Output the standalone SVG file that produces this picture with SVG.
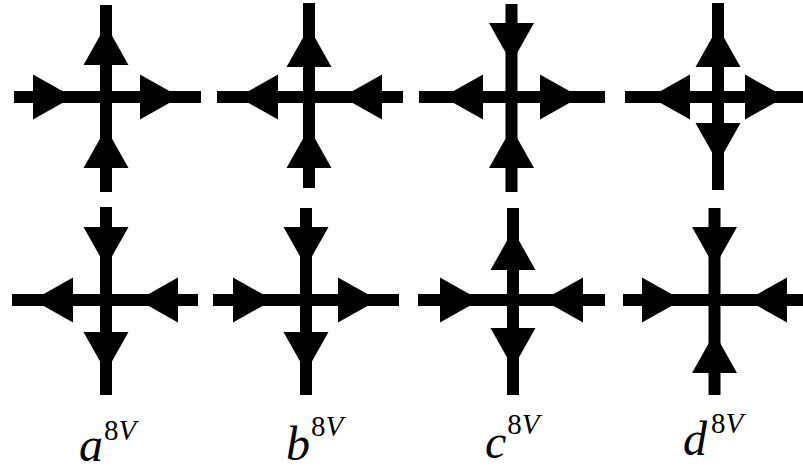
<svg xmlns="http://www.w3.org/2000/svg" xmlns:xlink="http://www.w3.org/1999/xlink" width="803" height="468" viewBox="0 0 803 468">
<style>
.lb{font-family:"Liberation Serif","Times New Roman",serif;fill:#000;font-size:48px}
.it{font-style:italic}
.sp{font-size:29px}
</style>
<defs>
<path id="ar" d="M-40,-22.5 L0,0 L-40,22.5 Z"/>
</defs>
<rect width="803" height="468" fill="#fff"/>
<g id="connectors">
<g id="a-top">
<rect x="100" y="5" width="12" height="187"/>
<rect x="14" y="91" width="187" height="12"/>
<use href="#ar" xlink:href="#ar" transform="translate(106,25) rotate(-90)"/>
<use href="#ar" xlink:href="#ar" transform="translate(73,97)"/>
<use href="#ar" xlink:href="#ar" transform="translate(180,97)"/>
<use href="#ar" xlink:href="#ar" transform="translate(106,128) rotate(-90)"/>
</g>
<g id="b-top">
<rect x="303" y="3" width="12" height="185"/>
<rect x="217" y="91" width="186" height="12"/>
<use href="#ar" xlink:href="#ar" transform="translate(309,27) rotate(-90)"/>
<use href="#ar" xlink:href="#ar" transform="translate(238,97) rotate(180)"/>
<use href="#ar" xlink:href="#ar" transform="translate(342,97) rotate(180)"/>
<use href="#ar" xlink:href="#ar" transform="translate(309,128) rotate(-90)"/>
</g>
<g id="c-top">
<rect x="505.5" y="4" width="12" height="188"/>
<rect x="419" y="91" width="186" height="12"/>
<use href="#ar" xlink:href="#ar" transform="translate(511.5,63) rotate(90)"/>
<use href="#ar" xlink:href="#ar" transform="translate(443,97) rotate(180)"/>
<use href="#ar" xlink:href="#ar" transform="translate(580,97)"/>
<use href="#ar" xlink:href="#ar" transform="translate(511.5,128) rotate(-90)"/>
</g>
<g id="d-top">
<rect x="712" y="3" width="12" height="187"/>
<rect x="625" y="91" width="178" height="12"/>
<use href="#ar" xlink:href="#ar" transform="translate(718,27) rotate(-90)"/>
<use href="#ar" xlink:href="#ar" transform="translate(650,97) rotate(180)"/>
<use href="#ar" xlink:href="#ar" transform="translate(785,97)"/>
<use href="#ar" xlink:href="#ar" transform="translate(718,163) rotate(90)"/>
</g>
<g id="a-bottom">
<rect x="100" y="207" width="12" height="188"/>
<rect x="12" y="294" width="186" height="12"/>
<use href="#ar" xlink:href="#ar" transform="translate(106,267) rotate(90)"/>
<use href="#ar" xlink:href="#ar" transform="translate(33,300) rotate(180)"/>
<use href="#ar" xlink:href="#ar" transform="translate(138,300) rotate(180)"/>
<use href="#ar" xlink:href="#ar" transform="translate(106,372) rotate(90)"/>
</g>
<g id="b-bottom">
<rect x="300" y="208" width="12" height="187"/>
<rect x="213" y="294" width="186" height="12"/>
<use href="#ar" xlink:href="#ar" transform="translate(306,267) rotate(90)"/>
<use href="#ar" xlink:href="#ar" transform="translate(273,300)"/>
<use href="#ar" xlink:href="#ar" transform="translate(378,300)"/>
<use href="#ar" xlink:href="#ar" transform="translate(306,372) rotate(90)"/>
</g>
<g id="c-bottom">
<rect x="507" y="208" width="12" height="187"/>
<rect x="418" y="294" width="187" height="12"/>
<use href="#ar" xlink:href="#ar" transform="translate(513,230) rotate(-90)"/>
<use href="#ar" xlink:href="#ar" transform="translate(480,300)"/>
<use href="#ar" xlink:href="#ar" transform="translate(543,300) rotate(180)"/>
<use href="#ar" xlink:href="#ar" transform="translate(513,368) rotate(90)"/>
</g>
<g id="d-bottom">
<rect x="708.5" y="208" width="12" height="187"/>
<rect x="623" y="294" width="180" height="12"/>
<use href="#ar" xlink:href="#ar" transform="translate(714.5,267) rotate(90)"/>
<use href="#ar" xlink:href="#ar" transform="translate(682,300)"/>
<use href="#ar" xlink:href="#ar" transform="translate(747,300) rotate(180)"/>
<use href="#ar" xlink:href="#ar" transform="translate(714.5,333) rotate(-90)"/>
</g>
</g>
<g id="labels">
<text id="label-a" class="lb" x="79" y="461"><tspan class="it">a</tspan><tspan class="sp" dx="1" dy="-21">8</tspan><tspan class="sp it">V</tspan></text>
<text id="label-b" class="lb" x="286" y="460"><tspan class="it">b</tspan><tspan class="sp" dx="1" dy="-24">8</tspan><tspan class="sp it">V</tspan></text>
<text id="label-c" class="lb" x="485" y="458"><tspan class="it">c</tspan><tspan class="sp" dx="1" dy="-24">8</tspan><tspan class="sp it">V</tspan></text>
<text id="label-d" class="lb" x="683" y="455"><tspan class="it">d</tspan><tspan class="sp" dx="4" dy="-22">8</tspan><tspan class="sp it">V</tspan></text>
</g>
</svg>
